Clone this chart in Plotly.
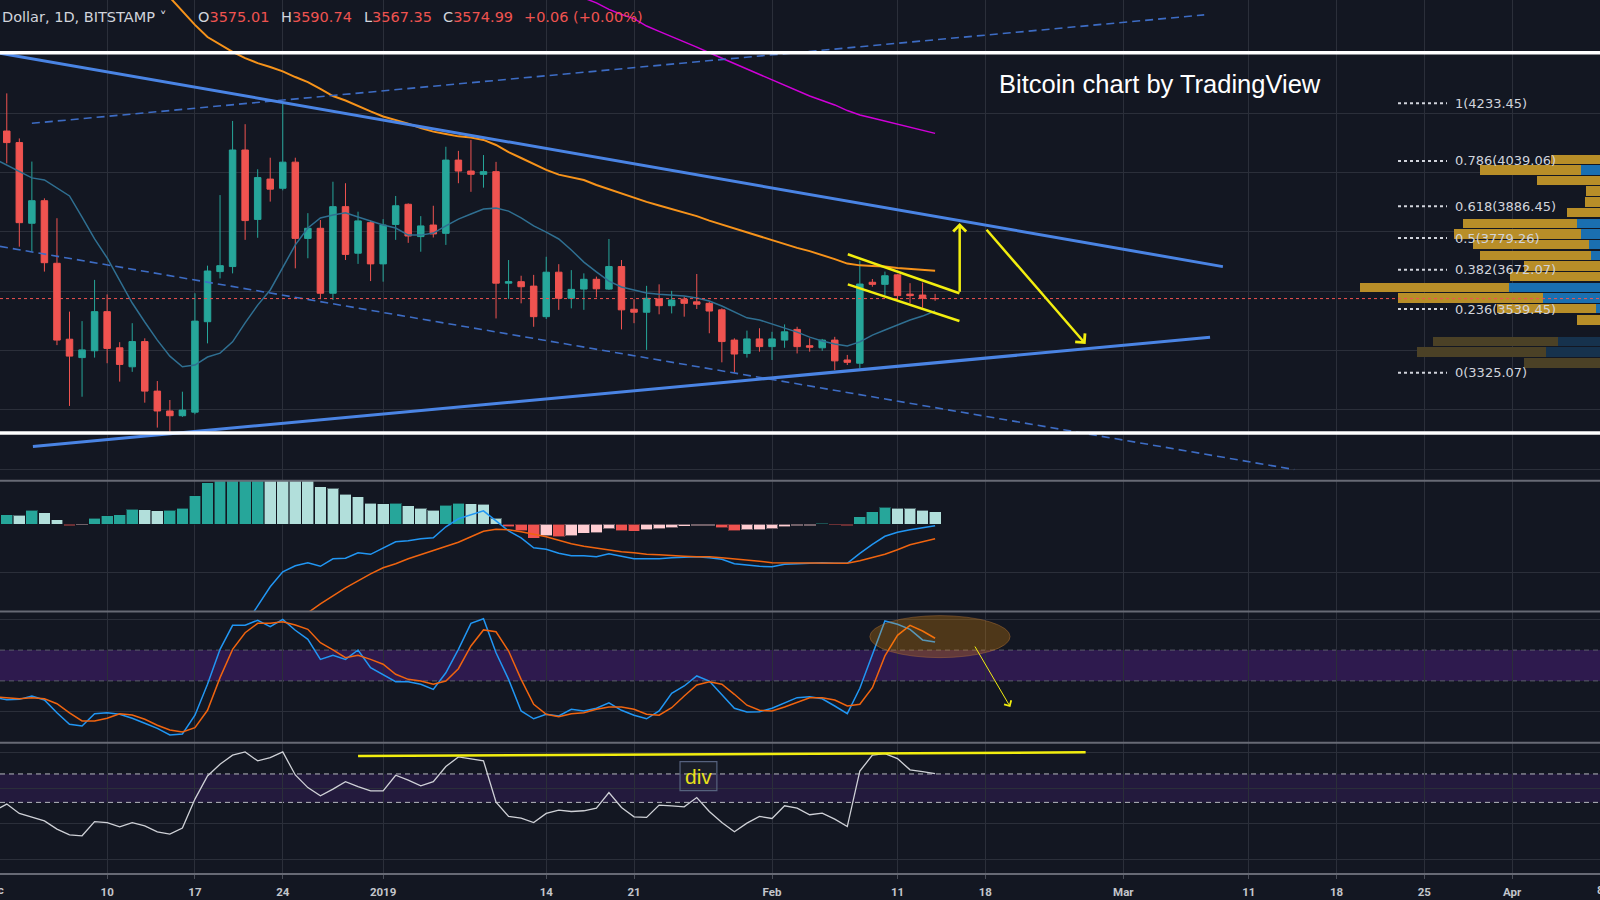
import plotly.graph_objects as go
import pandas as pd

# ---------------- data ----------------
dates = pd.date_range('2018-12-02', '2019-02-14', freq='D')      # candles
ind_dates = pd.date_range('2018-12-01', '2019-02-14', freq='D')  # oscillators / fast MA

open_ = [4140, 4101, 3829, 3905, 3694, 3438, 3376, 3399, 3531, 3409, 3345, 3430, 3263, 3196, 3180,
         3192, 3497, 3666, 3683, 4076, 3842, 3978, 3947, 4035, 3778, 3812, 3593, 3885, 3728, 3831,
         3692, 3825, 3893, 3784, 3823, 3795, 4042, 4005, 3994, 4003, 3627, 3632, 3617, 3514, 3664,
         3576, 3607, 3640, 3607, 3683, 3539, 3529, 3574, 3551, 3573, 3564, 3559, 3537, 3435, 3390,
         3439, 3413, 3435, 3471, 3416, 3409, 3435, 3368, 3357, 3630, 3623, 3655, 3590, 3587, 3575.01]
high = [4267, 4115, 4037, 3913, 3846, 3531, 3499, 3638, 3589, 3428, 3492, 3441, 3297, 3233, 3261,
        3593, 3686, 3924, 4174, 4163, 4011, 4050, 4233, 4050, 3863, 3840, 3969, 3964, 3868, 3838,
        3843, 3921, 3896, 3853, 3888, 4087, 4073, 4110, 4059, 4036, 3705, 3652, 3655, 3716, 3691,
        3671, 3660, 3649, 3776, 3705, 3573, 3618, 3623, 3601, 3581, 3658, 3564, 3542, 3441, 3467,
        3475, 3463, 3488, 3480, 3441, 3439, 3446, 3385, 3703, 3641, 3666, 3657, 3627, 3629, 3590.74]
low = [4031, 3750, 3733, 3666, 3418, 3213, 3244, 3376, 3357, 3295, 3328, 3224, 3140, 3126, 3176,
       3185, 3424, 3643, 3660, 3773, 3780, 3902, 3940, 3677, 3711, 3573, 3570, 3705, 3692, 3634,
       3632, 3773, 3763, 3733, 3781, 3756, 3964, 3935, 3949, 3508, 3574, 3559, 3480, 3506, 3537,
       3542, 3537, 3579, 3604, 3471, 3492, 3402, 3522, 3525, 3514, 3540, 3458, 3360, 3325, 3376,
       3396, 3368, 3409, 3390, 3396, 3399, 3334, 3351, 3340, 3615, 3587, 3564, 3559, 3544, 3567.35]
close = [4101, 3831, 3905, 3696, 3435, 3381, 3402, 3531, 3407, 3353, 3430, 3263, 3196, 3180, 3199,
         3499, 3668, 3686, 4076, 3838, 3983, 3944, 4035, 3778, 3812, 3593, 3885, 3724, 3837, 3692,
         3823, 3888, 3786, 3820, 3793, 4042, 4005, 3994, 4003, 3627, 3632, 3615, 3514, 3664, 3576,
         3606, 3640, 3608, 3683, 3537, 3529, 3576, 3551, 3570, 3559, 3556, 3533, 3430, 3388, 3439,
         3413, 3439, 3463, 3413, 3411, 3435, 3365, 3360, 3624, 3623, 3652, 3585, 3585, 3576, 3574.99]

# fast MA (from Dec 1)
sma_fast = [4047, 4025, 4002, 3982, 3975, 3948, 3921, 3850, 3776, 3712, 3634, 3560, 3496, 3435, 3381, 3345,
            3351, 3378, 3391, 3429, 3493, 3553, 3604, 3678, 3756, 3813, 3847, 3857, 3864, 3850, 3837,
            3823, 3813, 3789, 3789, 3796, 3820, 3843, 3860, 3877, 3880, 3870, 3847, 3820, 3799, 3776,
            3739, 3698, 3665, 3634, 3614, 3604, 3594, 3590, 3587, 3584, 3577, 3567, 3550, 3530, 3510,
            3503, 3489, 3476, 3462, 3445, 3432, 3422, 3415, 3429, 3452, 3469, 3486, 3503, 3516, 3533]
# orange MA, from Dec 13
ma_orange = [4683, 4636, 4592, 4545, 4498, 4457, 4433, 4407, 4386, 4369, 4356, 4341, 4322, 4305, 4282,
             4258, 4243, 4224, 4206, 4189, 4177, 4165, 4150, 4138, 4130, 4122, 4118, 4110, 4093, 4069,
             4049, 4029, 4009, 3993, 3983, 3975, 3958, 3944, 3929, 3914, 3901, 3889, 3877, 3867, 3853,
             3838, 3825, 3811, 3799, 3786, 3771, 3759, 3746, 3735, 3722, 3708, 3693, 3687, 3685, 3683,
             3678, 3675, 3671, 3669]
# magenta MA, from Jan 16
ma_magenta = [4605, 4588, 4572, 4550, 4533, 4519, 4494, 4476, 4459, 4441, 4423, 4404, 4386, 4368, 4349,
              4331, 4314, 4295, 4277, 4258, 4243, 4228, 4209, 4194, 4184, 4174, 4164, 4154, 4143, 4132]

# MACD histogram (from Dec 2)
macd_hist = [19, 18, 28, 23, 9, -3, -2, 12, 17, 19, 30, 29, 27, 28, 32, 57, 83, 92, 102, 110,
             114, 108, 101, 96, 90, 75, 72, 60, 55, 42,
             41, 42, 37, 32, 28, 38, 42, 41, 40, 12, -5, -13, -28, -23, -25, -23, -18, -17, -9, -13,
             -14, -11, -9, -7, -4, -3, -3, -7, -13, -11, -11,
             -9, -5, -3, -3, 2, -1, -3, 15, 25, 34, 32, 32, 28, 25]
# MACD / signal, from Dec 17
macd_line = [-361, -331, -291, -241, -201, -163, -125, -95, -83, -77, -84, -69, -68, -57, -60,
             -47, -35, -33, -29, -27, -5, 11, 19, 27, 7, -13, -27, -47, -50, -58, -63, -63, -65, -59, -64,
             -69, -69, -69, -67, -66, -65, -67, -70, -79, -82, -84,
             -85, -80, -79, -78, -77, -78, -78, -58, -40, -24, -16, -11, -7, -3]
macd_signal = [-353, -337, -319, -299, -277, -255, -235, -215, -195, -177, -159, -143, -127, -113, -99,
               -87, -79, -69, -61, -53, -45, -36, -25, -14, -10, -11, -15, -20, -25, -32, -39, -44, -48, -52, -55,
               -57, -60, -61, -63, -64, -65, -65, -67, -69, -72, -74,
               -77, -77, -78, -78, -78, -78, -78, -73, -66, -60, -51, -41, -35, -29]

# oscillators (from Dec 1)
stoch_k = [29.1, 27.8, 28.0, 30.2, 27.6, 19.3, 11.8, 10.7, 18.7, 19.3, 18.3, 15.7, 12.5, 9.2, 4.9, 5.5,
           17.7, 37.8, 60.5, 76.1, 76.1, 79.4, 75.2, 80.0, 72.9, 67.0, 54.0, 56.6, 54.0, 60.1, 48.6,
           44.3, 39.5, 39.5, 37.8, 34.5, 45.3, 60.5, 77.4, 80.4, 58.3, 41.0, 20.5, 15.4, 18.3, 17.2,
           21.6, 20.5, 22.2, 25.8, 20.9, 17.7, 15.4, 20.5, 31.9, 36.7, 43.2, 39.9, 31.3, 22.2, 19.8, 20.0,
           22.2, 25.8, 29.1, 29.7, 28.4, 23.7, 18.7, 35.2, 57.3, 78.9, 76.8, 73.5, 66.6, 65.3]
stoch_d = [29.6, 28.9, 28.4, 29.1, 28.4, 25.2, 19.3, 14.0, 14.0, 15.7, 18.7, 17.9, 15.1, 11.2, 8.1, 6.8,
           9.6, 20.9, 42.1, 60.5, 71.3, 77.4, 77.4, 78.4, 76.3, 73.5, 64.8, 60.1, 55.1, 56.6, 54.0,
           50.8, 44.3, 41.0, 39.9, 37.8, 39.9, 47.9, 62.7, 73.1, 71.9, 59.4, 41.0, 24.8, 18.3, 16.7,
           18.7, 19.3, 21.6, 23.0, 23.0, 21.6, 18.3, 17.7, 22.6, 30.2, 37.3, 39.5, 37.8, 31.3, 24.2, 20.9,
           20.5, 23.0, 25.8, 29.1, 29.1, 27.6, 23.7, 24.8, 35.6, 56.2, 69.6, 76.1, 72.4, 67.7]
rsi = [34.1, 38.8, 32.2, 29.4, 27.0, 21.2, 17.2, 16.5, 26.5, 25.8, 22.8, 25.8, 23.5, 19.3, 17.7, 21.9,
       42.3, 58.6, 66.9, 73.2, 75.5, 69.2, 71.5, 75.5, 59.3, 50.4, 44.6, 49.3, 54.6, 51.1, 48.1,
       48.1, 59.1, 55.6, 51.6, 54.6, 65.2, 72.0, 70.8, 69.2, 40.2, 30.1, 28.9, 25.8, 32.2, 34.6,
       33.6, 34.1, 36.0, 46.9, 36.4, 29.8, 29.4, 38.1, 37.6, 36.9, 43.4, 33.6, 25.8, 19.3, 25.4, 30.1,
       28.7, 37.6, 36.0, 31.3, 32.4, 28.2, 23.0, 62.1, 73.2, 74.3, 70.8, 62.9, 61.7, 60.3]

# visible-range volume profile (row price, blue part, gold part)
vp_price = [4044, 4009, 3973, 3937, 3901, 3865, 3829, 3793, 3757, 3721, 3685, 3649, 3613, 3577,
            3541, 3503, 3431, 3395, 3358]
vp_blue = [0, 9.7, 0, 0, 0, 0, 11.4, 9.5, 5.5, 4.5, 0, 0, 45.5, 28.7, 2, 0, 20.9, 27.2, 0]
vp_gold = [24.6, 50.4, 31.7, 7, 7.5, 16.4, 57, 63.4, 57.9, 55.5, 37.9, 45, 74.5, 72.2, 49.5, 11.4,
           62.5, 64.2, 38]
vp_value_area = [True] * 16 + [False] * 3

fib_ratios = ['1', '0.786', '0.618', '0.5', '0.382', '0.236', '0']
fib_prices = [4233.45, 4039.06, 3886.45, 3779.26, 3672.07, 3539.45, 3325.07]

tick_dates = ['2018-12-10', '2018-12-17', '2018-12-24', '2019-01-01', '2019-01-14', '2019-01-21',
              '2019-02-01', '2019-02-11', '2019-02-18', '2019-03-01', '2019-03-11', '2019-03-18',
              '2019-03-25', '2019-04-01']
tick_labels = ['10', '17', '24', '2019', '14', '21', 'Feb', '11', '18', 'Mar', '11', '18', '25', 'Apr']

# drawings (time, price)
upper_trend = [('2018-12-01 11:00', 4402.7), ('2019-03-08 22:30', 3682.8)]
lower_trend = [('2018-12-04 02:00', 3076.2), ('2019-03-07 22:00', 3444.4)]
upper_dashed = [('2018-12-04 00:00', 4166.0), ('2019-03-07 10:48', 4531.6)]
lower_dashed = [('2018-12-01 11:00', 3750.9), ('2019-03-14 15:00', 2998.6)]
white_levels = [4404, 3122]
flag_upper = [('2019-02-07 01:00', 3724.3), ('2019-02-15 22:30', 3592.8)]
flag_lower = [('2019-02-07 01:00', 3623.1), ('2019-02-15 22:30', 3499.4)]
arrow_up = [('2019-02-15 23:00', 3592.8), ('2019-02-15 23:00', 3830.0)]
arrow_down = [('2019-02-18 00:00', 3812.0), ('2019-02-26 00:00', 3421.8)]
stoch_ellipse = [('2019-02-08 19:00', 55.1), ('2019-02-19 23:30', 82.4)]
stoch_arrow = [('2019-02-17 02:30', 63.3), ('2019-02-20 00:00', 23.0)]
rsi_level = [('2018-12-30 00:00', 72.7), ('2019-02-26 00:00', 75.2)]
div_box = [('2019-01-24 16:00', 48.3), ('2019-01-27 14:30', 68.7)]

# ---------------- style ----------------
BG = '#131722'
GRID = '#2b2f3a'
SEP = '#676a75'
UP = '#26a69a'
DN = '#ef5350'
YEL = '#f2ee0f'
TXT = '#d1d4dc'
BLUE_TL = '#4a84e4'
AXTXT = '#c3c6cc'

fig = go.Figure()

fig.add_trace(go.Candlestick(
    x=dates, open=open_, high=high, low=low, close=close,
    increasing=dict(line=dict(color=UP, width=1), fillcolor=UP),
    decreasing=dict(line=dict(color=DN, width=1), fillcolor=DN),
    whiskerwidth=0, xaxis='x', yaxis='y', hoverinfo='skip'))
fig.add_trace(go.Scatter(x=ind_dates, y=sma_fast, mode='lines', line=dict(color='#2f6f91', width=1.5),
                         xaxis='x', yaxis='y', hoverinfo='skip'))
fig.add_trace(go.Scatter(x=dates[11:], y=ma_orange, mode='lines', line=dict(color='#f7931a', width=2),
                         xaxis='x', yaxis='y', hoverinfo='skip'))
fig.add_trace(go.Scatter(x=dates[45:], y=ma_magenta, mode='lines', line=dict(color='#d000d8', width=1.5),
                         xaxis='x', yaxis='y', hoverinfo='skip'))

# volume profile on an overlaying, reversed axis
blue_cols = ['#1a6fb0' if v else '#16324d' for v in vp_value_area]
gold_cols = ['#b88e28' if v else '#4b4126' for v in vp_value_area]
fig.add_trace(go.Bar(y=vp_price, x=vp_blue, orientation='h', width=32, xaxis='x2', yaxis='y',
                     marker=dict(color=blue_cols, line=dict(width=0)), hoverinfo='skip'))
fig.add_trace(go.Bar(y=vp_price, x=vp_gold, orientation='h', width=32, xaxis='x2', yaxis='y',
                     marker=dict(color=gold_cols, line=dict(width=0)), hoverinfo='skip'))

# MACD histogram colours (growing / falling)
hist_cols = []
prev = None
for h in macd_hist:
    if h >= 0:
        hist_cols.append('#26a69a' if (prev is None or h > prev) else '#b2dfdb')
    else:
        hist_cols.append('#ef5350' if (prev is not None and h < prev) else '#ffcdd2')
    prev = h
fig.add_trace(go.Bar(x=dates, y=macd_hist, width=86400000 * 0.94, xaxis='x', yaxis='y2',
                     marker=dict(color=hist_cols, line=dict(color='rgba(19,23,34,0.6)', width=1)),
                     hoverinfo='skip'))
fig.add_trace(go.Scatter(x=dates[15:], y=macd_line, mode='lines', line=dict(color='#2196f3', width=1.5),
                         xaxis='x', yaxis='y2', hoverinfo='skip'))
fig.add_trace(go.Scatter(x=dates[15:], y=macd_signal, mode='lines', line=dict(color='#f0640f', width=1.5),
                         xaxis='x', yaxis='y2', hoverinfo='skip'))

fig.add_trace(go.Scatter(x=ind_dates, y=stoch_k, mode='lines', line=dict(color='#2196f3', width=1.5),
                         xaxis='x', yaxis='y3', hoverinfo='skip'))
fig.add_trace(go.Scatter(x=ind_dates, y=stoch_d, mode='lines', line=dict(color='#f0640f', width=1.5),
                         xaxis='x', yaxis='y3', hoverinfo='skip'))
fig.add_trace(go.Scatter(x=ind_dates, y=rsi, mode='lines', line=dict(color='#cfd1d7', width=1.3),
                         xaxis='x', yaxis='y4', hoverinfo='skip'))

# ---------------- shapes ----------------
shapes = []

def seg(pts, yref, color, width, dash='solid', layer='above'):
    shapes.append(dict(type='line', xref='x', yref=yref, x0=pts[0][0], y0=pts[0][1],
                       x1=pts[1][0], y1=pts[1][1], line=dict(color=color, width=width, dash=dash),
                       layer=layer))

# indicator bands
for yref, col, lcol in [('y3', '#2e1a4e', '#5b5d6a'), ('y4', '#231a3d', '#b6b8bf')]:
    shapes.append(dict(type='rect', xref='paper', yref=yref, x0=0, x1=1, y0=40, y1=60,
                       fillcolor=col, line=dict(width=0), layer='below'))
    for lv in (40, 60):
        shapes.append(dict(type='line', xref='paper', yref=yref, x0=0, x1=1, y0=lv, y1=lv,
                           line=dict(color=lcol, width=1, dash='5px,4px'), layer='below'))

seg(upper_dashed, 'y', '#3d6cc4', 1.6, '8px,5px')
seg(lower_dashed, 'y', '#3d6cc4', 1.6, '8px,5px')
seg(upper_trend, 'y', BLUE_TL, 3)
seg(lower_trend, 'y', BLUE_TL, 3)
for lv in white_levels:
    shapes.append(dict(type='line', xref='paper', yref='y', x0=0, x1=1, y0=lv, y1=lv,
                       line=dict(color='#ffffff', width=3.5), layer='above'))
shapes.append(dict(type='line', xref='paper', yref='y', x0=0, x1=1, y0=close[-1], y1=close[-1],
                   line=dict(color='#ef5350', width=1, dash='dot'), layer='above'))
seg(flag_upper, 'y', YEL, 2.5)
seg(flag_lower, 'y', YEL, 2.5)
seg(rsi_level, 'y4', YEL, 2.5)
shapes.append(dict(type='circle', xref='x', yref='y3', x0=stoch_ellipse[0][0], y0=stoch_ellipse[0][1],
                   x1=stoch_ellipse[1][0], y1=stoch_ellipse[1][1], fillcolor='rgba(255,152,0,0.25)',
                   line=dict(color='rgba(200,130,60,0.35)', width=1), layer='above'))
shapes.append(dict(type='rect', xref='x', yref='y4', x0=div_box[0][0], y0=div_box[0][1],
                   x1=div_box[1][0], y1=div_box[1][1], fillcolor='rgba(255,255,255,0.03)',
                   line=dict(color='#56627e', width=1.2), layer='above'))
# fib leaders
for p in fib_prices:
    shapes.append(dict(type='line', xref='paper', yref='y', x0=1398 / 1600, x1=1447 / 1600, y0=p, y1=p,
                       line=dict(color=TXT, width=2, dash='dot'), layer='above'))

# pane separators
PLOT_H = 874.0
for py in (480.7, 611.5, 742.7, 874.0):
    yy = 1 - py / PLOT_H
    shapes.append(dict(type='line', xref='paper', yref='paper', x0=0, x1=1, y0=yy, y1=yy,
                       line=dict(color=SEP, width=2), layer='above'))

# ---------------- annotations ----------------
ann = []

def arrow(head, tail, yref, width, size):
    ann.append(dict(x=head[0], y=head[1], ax=tail[0], ay=tail[1], xref='x', yref=yref,
                    axref='x', ayref=yref, showarrow=True, arrowhead=4, arrowsize=size,
                    arrowwidth=width, arrowcolor=YEL, text=''))

arrow(arrow_up[1], arrow_up[0], 'y', 2.5, 1.0)
arrow(arrow_down[1], arrow_down[0], 'y', 2.5, 1.0)
arrow(stoch_arrow[1], stoch_arrow[0], 'y3', 1.0, 1.6)

for r, p in zip(fib_ratios, fib_prices):
    ann.append(dict(x=1453 / 1600, y=p, xref='paper', yref='y', xanchor='left', yanchor='middle',
                    text=f'{r}({p:.2f})', showarrow=False,
                    font=dict(family='DejaVu Sans', size=13, color=TXT)))

ann.append(dict(x=(div_box[0][0]), y=58.5, xref='x', yref='y4', text='div', showarrow=False,
                xanchor='left', yanchor='middle', xshift=3,
                font=dict(family='Liberation Sans', size=21, color='#e8e01a')))

ann.append(dict(x=1159.7 / 1600, y=1 - 83.7 / PLOT_H, xref='paper', yref='paper',
                text='Bitcoin chart by TradingView', showarrow=False, xanchor='center', yanchor='middle',
                font=dict(family='Liberation Sans', size=25.5, color='#ffffff')))

hy = 1 - 17 / PLOT_H
hfont = dict(family='DejaVu Sans', size=14.5, color=TXT)
red = '#ef5350'
header_items = [
    (0, 'Dollar, 1D, BITSTAMP \u02c5'),
    (196, f"O<span style='color:{red}'>{open_[-1]:.2f}</span>"),
    (279, f"H<span style='color:{red}'>{high[-1]:.2f}</span>"),
    (361.5, f"L<span style='color:{red}'>{low[-1]:.2f}</span>"),
    (440.5, f"C<span style='color:{red}'>{close[-1]:.2f}</span>"),
    (521.5, f"<span style='color:{red}'>+0.06 (+0.00%)</span>"),
]
for px, t in header_items:
    ann.append(dict(x=px / 1600, y=hy, xref='paper', yref='paper', text=t, showarrow=False,
                    xanchor='left', yanchor='middle', font=hfont))

# partially visible edge labels of the time axis
tick_font = dict(family='Roboto', size=11.5, color=AXTXT, weight='bold')
for px, t in [(-6, 'Dec'), (1600, '8')]:
    ann.append(dict(x=px / 1600, y=-16.3 / PLOT_H, xref='paper', yref='paper', text=t, showarrow=False,
                    xanchor='center', yanchor='middle', font=tick_font))

# ---------------- layout ----------------
ax_common = dict(showgrid=True, gridcolor=GRID, gridwidth=1, zeroline=False, showticklabels=False,
                 ticks='', showline=False, fixedrange=True, anchor='x')

fig.update_layout(
    width=1600, height=900,
    margin=dict(l=0, r=0, t=0, b=26),
    paper_bgcolor=BG, plot_bgcolor=BG,
    showlegend=False, barmode='stack', boxgap=0.26,
    xaxis=dict(type='date', domain=[0, 1], range=['2018-12-01 11:02', '2019-04-08 00:00'],
               anchor='y4', tickvals=tick_dates, ticktext=tick_labels, showgrid=True,
               gridcolor=GRID, zeroline=False, ticks='outside', ticklen=4, tickcolor='#4a4e59',
               ticklabelstandoff=3, showline=False, tickfont=tick_font,
               rangeslider=dict(visible=False), fixedrange=True),
    xaxis2=dict(overlaying='x', anchor='y', range=[800, 0], visible=False, fixedrange=True),
    yaxis=dict(domain=[1 - 480.7 / PLOT_H, 1], range=[2960.9, 4581.8],
               tickvals=[3000, 3200, 3400, 3600, 3800, 4000, 4200, 4400], **ax_common),
    yaxis2=dict(domain=[1 - 611.5 / PLOT_H, 1 - 480.7 / PLOT_H], range=[-174.4, 87.2],
                tickvals=[-97], **ax_common),
    yaxis3=dict(domain=[1 - 742.7 / PLOT_H, 1 - 611.5 / PLOT_H], range=[-0.14, 85.07],
                tickvals=[20, 80], **ax_common),
    yaxis4=dict(domain=[0, 1 - 742.7 / PLOT_H], range=[-10.4, 82.0],
                tickvals=[0, 25, 50, 75], **ax_common),
    shapes=shapes, annotations=ann,
)

fig.write_html('out.html')
